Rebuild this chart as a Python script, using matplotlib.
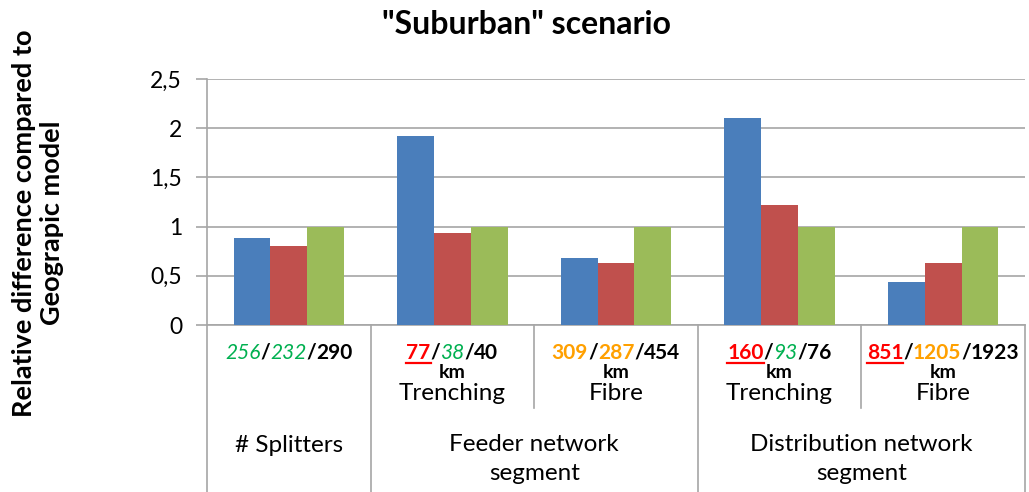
import matplotlib
matplotlib.use("Agg")
import matplotlib.pyplot as plt
import matplotlib.transforms as mtransforms
from matplotlib.lines import Line2D
from matplotlib.offsetbox import TextArea, HPacker, VPacker, DrawingArea, AnnotationBbox
import numpy as np

plt.rcParams["font.family"] = "Lato"

# Data
categories = ["Splitters", "Feeder trenching", "Feeder fibre", "Distribution trenching", "Distribution fibre"]
series_blue = [0.88, 1.92, 0.68, 2.10, 0.44]
series_red = [0.80, 0.93, 0.63, 1.22, 0.63]
series_green = [1.00, 1.00, 1.00, 1.00, 1.00]

# count labels under each category: (text, colour, style)
count_labels = [
    [("256", "#00B050", "italic"), ("/", "black", "bold"), ("232", "#00B050", "italic"), ("/", "black", "bold"), ("290", "black", "bold")],
    [("77", "#FF0000", "underline"), ("/", "black", "bold"), ("38", "#00B050", "italic"), ("/", "black", "bold"), ("40", "black", "bold")],
    [("309", "#FFA000", "bold"), ("/", "black", "bold"), ("287", "#FFA000", "bold"), ("/", "black", "bold"), ("454", "black", "bold")],
    [("160", "#FF0000", "underline"), ("/", "black", "bold"), ("93", "#00B050", "italic"), ("/", "black", "bold"), ("76", "black", "bold")],
    [("851", "#FF0000", "underline"), ("/", "black", "bold"), ("1205", "#FFA000", "bold"), ("/", "black", "bold"), ("1923", "black", "bold")],
]
unit_labels = ["", "km", "km", "km", "km"]
sub_labels = ["", "Trenching", "Fibre", "Trenching", "Fibre"]
group_labels = ["# Splitters", "Feeder network\nsegment", "Distribution network\nsegment"]
group_centers = [0, 1.5, 3.5]
yticks = [0, 0.5, 1, 1.5, 2, 2.5]
ytick_labels = ["0", "0,5", "1", "1,5", "2", "2,5"]

W, H = 1029, 492
fig = plt.figure(figsize=(W / 100, H / 100), dpi=100)
ax = fig.add_axes([207 / W, 1 - 325 / H, (1025 - 207) / W, (325 - 79) / H])

x = np.arange(len(categories))
bw = 0.225
ax.bar(x - bw, series_blue, bw, color="#4A7EBB", zorder=3)
ax.bar(x, series_red, bw, color="#C0504D", zorder=3)
ax.bar(x + bw, series_green, bw, color="#9BBB59", zorder=3)

ax.set_xlim(-0.5, len(categories) - 0.5)
ax.set_ylim(0, 2.5)
ax.set_yticks(yticks)
ax.set_yticklabels(ytick_labels, fontsize=16.5)
ax.set_xticks([])
ax.yaxis.grid(True, color="#A6A6A6", linewidth=1.2, zorder=0)
ax.tick_params(axis="y", length=8, color="#A6A6A6", width=1.2, pad=10)
for s in ["top", "right"]:
    ax.spines[s].set_visible(False)
ax.spines["left"].set_color("#A6A6A6")
ax.spines["bottom"].set_color("#A6A6A6")
ax.spines["left"].set_linewidth(1.2)
ax.spines["bottom"].set_linewidth(1.2)

blend = mtransforms.blended_transform_factory(ax.transData, fig.transFigure)


def fy(py):
    return 1 - py / H


# separators below the axis
full = [-0.5, 0.5, 2.5, 4.5]
partial = [1.5, 3.5]
for xv in full:
    fig.add_artist(Line2D([xv, xv], [fy(325), fy(492)], transform=blend, color="#A6A6A6", lw=1.2))
for xv in partial:
    fig.add_artist(Line2D([xv, xv], [fy(325), fy(408)], transform=blend, color="#A6A6A6", lw=1.2))

# multi-coloured count labels, packed side by side
fig.canvas.draw()
renderer = fig.canvas.get_renderer()
pt_per_px = 72 / fig.dpi
for i, parts in enumerate(count_labels):
    cols = []
    for txt, col, sty in parts:
        props = dict(color=col, fontsize=15,
                     fontweight="normal" if sty == "italic" else "bold",
                     fontstyle="italic" if sty == "italic" else "normal")
        tmp = fig.text(0, 0, txt, **props)
        w = tmp.get_window_extent(renderer).width * pt_per_px
        tmp.remove()
        ta = TextArea(txt, textprops=props)
        da = DrawingArea(w, 2.5, 0, 0)
        if sty == "underline":
            da.add_artist(Line2D([0, w], [1.5, 1.5], color=col, lw=1.6))
        cols.append(VPacker(children=[ta, da], sep=-1, pad=0, align="left"))
    box = HPacker(children=cols, sep=0, pad=0, align="top")
    ab = AnnotationBbox(box, (x[i], fy(354)), xycoords=blend, box_alignment=(0.5, 0.5),
                        frameon=False, pad=0)
    fig.add_artist(ab)

for i in range(len(categories)):
    if unit_labels[i]:
        fig.text(x[i], fy(373), unit_labels[i], transform=blend, ha="center", va="center",
                 fontsize=14, fontweight="bold")
    if sub_labels[i]:
        fig.text(x[i], fy(393), sub_labels[i], transform=blend, ha="center", va="center",
                 fontsize=17.5)

for gx, lab in zip(group_centers, group_labels):
    fig.text(gx, fy(459) if "\n" in lab else fy(446), lab, transform=blend, ha="center", va="center",
             fontsize=17.5, linespacing=1.5)

fig.text(526 / W, fy(25), '"Suburban" scenario', ha="center", va="center",
         fontsize=23, fontweight="bold")
fig.text(38 / W, fy(223), "Relative difference compared to\nGeograpic model", rotation=90,
         ha="center", va="center", fontsize=19.5, fontweight="bold", linespacing=1.2)

fig.savefig("out.png", dpi=100)
